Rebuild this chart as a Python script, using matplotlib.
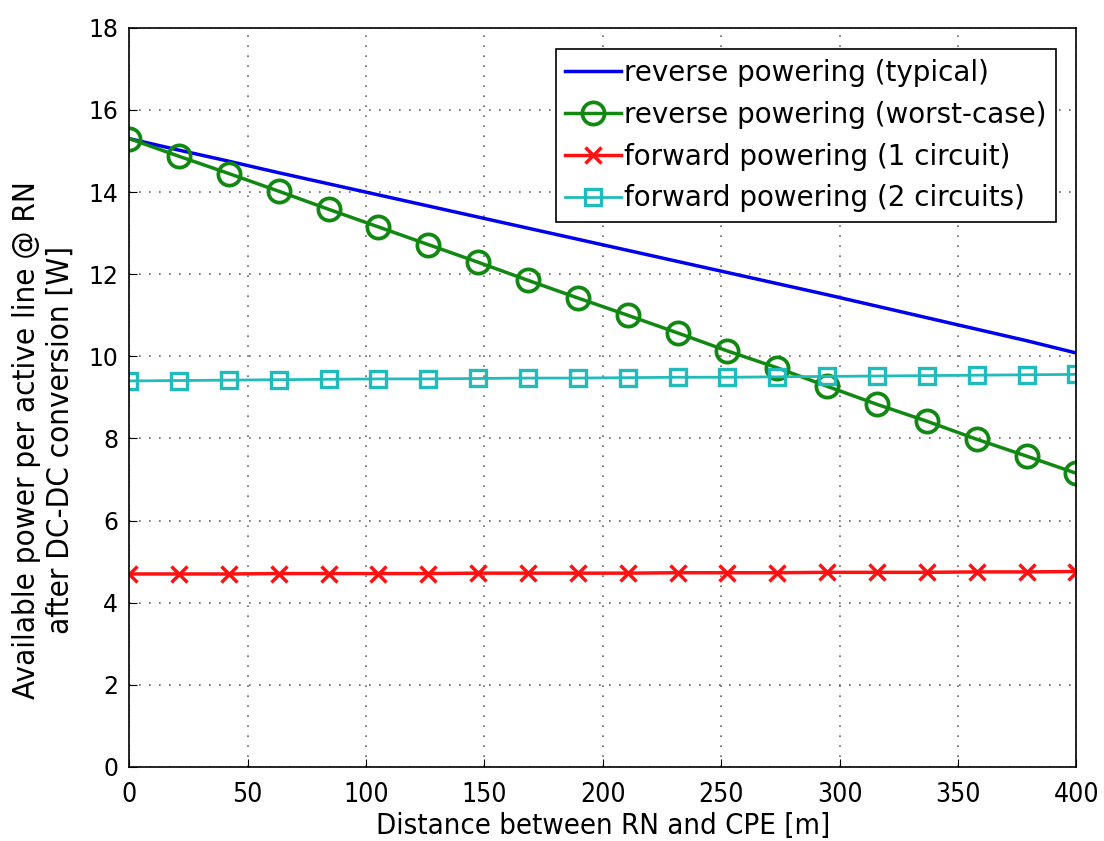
import matplotlib
matplotlib.use("Agg")
import matplotlib.pyplot as plt
import numpy as np

# distance samples [m]
distance = np.linspace(0, 400, 20)

typical = [15.30, 15.02, 14.75, 14.47, 14.20, 13.93, 13.66, 13.39, 13.12, 12.85,
           12.58, 12.31, 12.04, 11.77, 11.50, 11.22, 10.94, 10.66, 10.38, 10.08]
worst = [15.30, 14.87, 14.45, 14.02, 13.58, 13.15, 12.72, 12.29, 11.85, 11.42,
         11.00, 10.57, 10.13, 9.72, 9.27, 8.83, 8.42, 7.98, 7.57, 7.15]
fwd1 = [4.70, 4.70, 4.70, 4.71, 4.71, 4.71, 4.71, 4.72, 4.72, 4.72,
        4.72, 4.73, 4.73, 4.73, 4.74, 4.74, 4.74, 4.75, 4.75, 4.76]
fwd2 = [9.40, 9.41, 9.42, 9.43, 9.44, 9.45, 9.45, 9.46, 9.47, 9.47,
        9.48, 9.49, 9.49, 9.50, 9.51, 9.52, 9.53, 9.54, 9.55, 9.56]

labels = ['reverse powering (typical)', 'reverse powering (worst-case)',
          'forward powering (1 circuit)', 'forward powering (2 circuits)']

fig = plt.figure(figsize=(11.04, 8.41), dpi=100)
ax = fig.add_axes([0.117, 0.088, 0.858, 0.879])

ax.plot(distance, typical, '-', color='#0000ee', lw=2.5, label=labels[0])
ax.plot(distance, worst, '-o', color='#118811', lw=2.5, ms=16, mfc='none',
        mew=2.7, label=labels[1])
ax.plot(distance, fwd1, '-x', color='#ff1111', lw=2.5, ms=12, mew=2.5, label=labels[2])
ax.plot(distance, fwd2, '-s', color='#22bbbb', lw=2.0, ms=12, mfc='none',
        mew=2.4, label=labels[3])

ax.set_xlim(0, 400)
ax.set_ylim(0, 18)
ax.set_xticks(np.arange(0, 401, 50))
ax.set_yticks(np.arange(0, 19, 2))
ax.grid(True, linestyle=(0, (1, 5)), color='#666666', lw=1.2)
ax.tick_params(direction='in', length=6, labelsize=17)
ax.tick_params(axis='y', pad=8)
ax.tick_params(axis='x', pad=11)
for t in ax.get_xticklabels():
    t.set_fontstretch('condensed')
    t.set_fontsize(19)
for s in ax.spines.values():
    s.set_linewidth(1.2)

ax.set_xlabel('Distance between RN and CPE [m]', fontsize=21, fontstretch='condensed',
              labelpad=3)
ax.set_ylabel('Available power per active line @ RN\nafter DC-DC conversion [W]',
              fontsize=22.5, fontstretch='condensed')
ax.yaxis.set_label_coords(-0.058, 0.442)

leg = ax.legend(loc='upper right', fontsize=20, handlelength=2.0, handletextpad=0.1,
                borderpad=0.35, labelspacing=0.5, fancybox=False, framealpha=1,
                edgecolor='black', bbox_to_anchor=(0.993, 0.99))
leg.get_frame().set_linewidth(1.2)

fig.savefig('out.png', dpi=100)
